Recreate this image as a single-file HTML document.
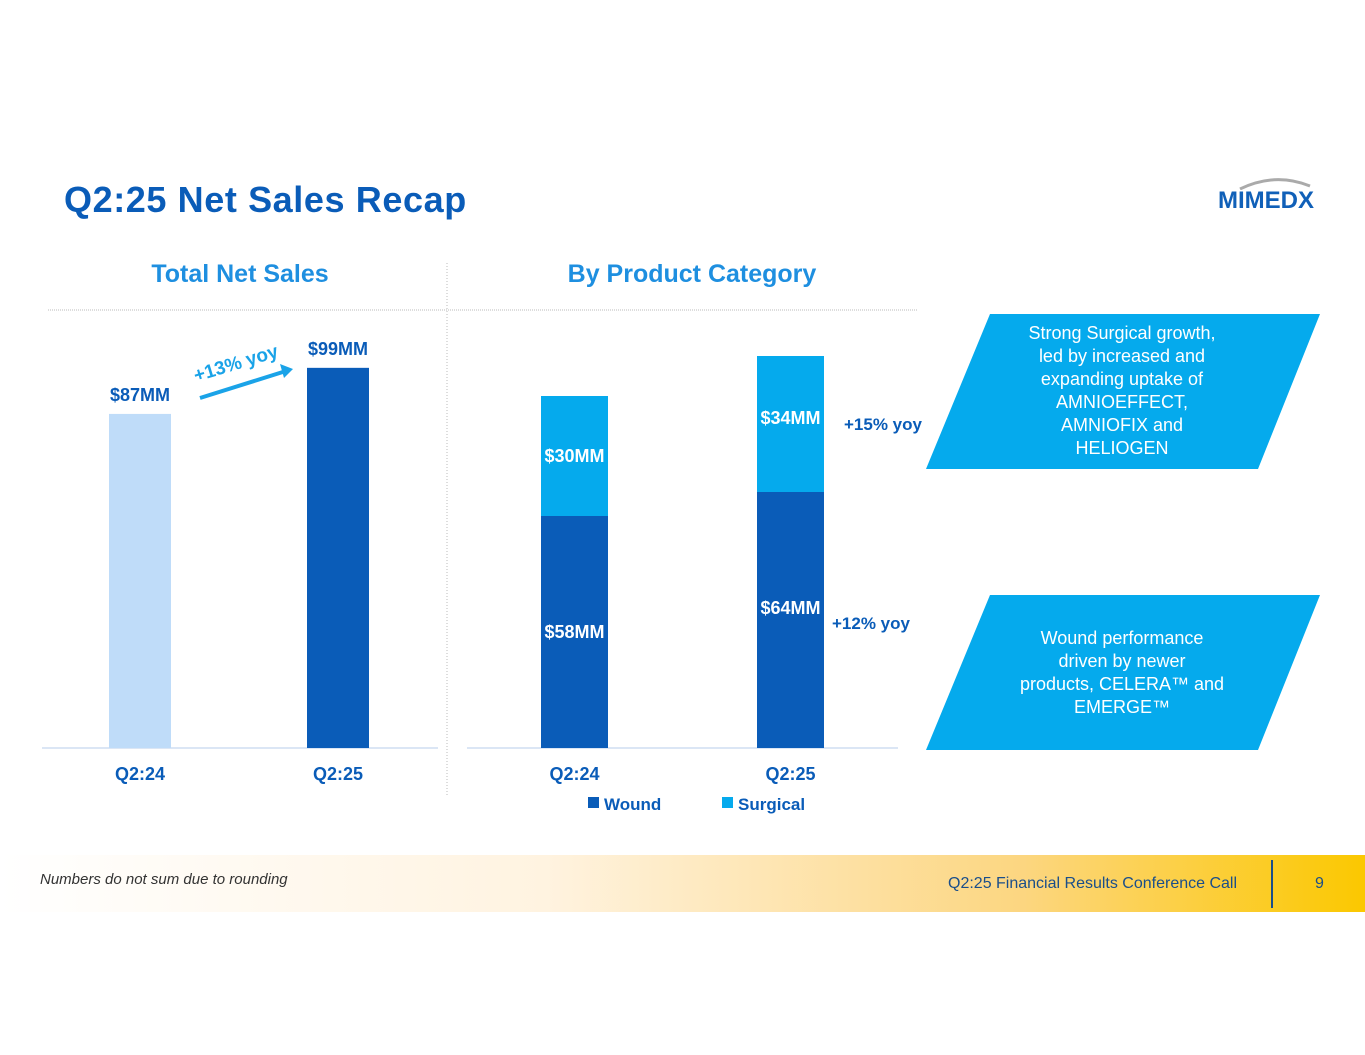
<!DOCTYPE html>
<html><head><meta charset="utf-8"><style>
body{margin:0;width:1365px;height:1055px;background:#fff;font-family:"Liberation Sans",sans-serif;position:relative;overflow:hidden}
.a{position:absolute}
</style></head><body>
<div class="a" style="left:64px;top:179px;font-size:36px;font-weight:bold;color:#0a5cb8;letter-spacing:0.6px">Q2:25 Net Sales Recap</div>
<div class="a" style="left:1218px;top:187px;font-size:24px;font-weight:bold;color:#1060b8">MIMEDX</div>
<svg class="a" style="left:1235px;top:176px" width="90" height="14"><path d="M5 13 Q40 -4 75 10" stroke="#aaa" stroke-width="3" fill="none"/></svg>
<div class="a" style="left:40px;width:400px;text-align:center;top:260px;font-size:25px;font-weight:bold;color:#1e8fe0">Total Net Sales</div>
<div class="a" style="left:492px;width:400px;text-align:center;top:260px;font-size:25px;font-weight:bold;color:#1e8fe0">By Product Category</div>
<svg class="a" style="left:0;top:0" width="1365" height="1055" id="chart">
<line x1="48" y1="310" x2="918" y2="310" stroke="#bbb" stroke-dasharray="1,1"/>
<line x1="447" y1="263" x2="447" y2="795" stroke="#bbb" stroke-dasharray="1,2"/>
<line x1="42" y1="748" x2="438" y2="748" stroke="#dbe6f5" stroke-width="2"/>
<line x1="467" y1="748" x2="898" y2="748" stroke="#dbe6f5" stroke-width="2"/>
<g id="g"></g>
<line x1="200" y1="398" x2="286" y2="371" stroke="#1aa3e8" stroke-width="4"/>
<polygon points="293,369 280,364 284,378" fill="#1aa3e8"/>
<text x="196" y="382" transform="rotate(-17 196 382)" font-size="19" font-weight="bold" fill="#1aa3e8">+13% yoy</text>
<polygon points="990,314 1320,314 1258,469 926,469" fill="#05aaed"/>
<polygon points="990,595 1320,595 1258,750 926,750" fill="#05aaed"/>
<text x="844" y="430" font-size="17" font-weight="bold" fill="#0a5cb8">+15% yoy</text>
<text x="832" y="629" font-size="17" font-weight="bold" fill="#0a5cb8">+12% yoy</text>
<rect x="588" y="797" width="11" height="11" fill="#0a5cb8"/><text x="604" y="810" font-size="17" font-weight="bold" fill="#0a5cb8">Wound</text>
<rect x="722" y="797" width="11" height="11" fill="#05aaed"/><text x="738" y="810" font-size="17" font-weight="bold" fill="#0a5cb8">Surgical</text>
</svg>
<div class="a" style="left:992px;width:260px;top:322px;text-align:center;color:#fff;font-size:18px;line-height:23px">Strong Surgical growth,<br>led by increased and<br>expanding uptake of<br>AMNIOEFFECT,<br>AMNIOFIX and<br>HELIOGEN</div>
<div class="a" style="left:992px;width:260px;top:627px;text-align:center;color:#fff;font-size:18px;line-height:23px">Wound performance<br>driven by newer<br>products, CELERA™ and<br>EMERGE™</div>
<div class="a" style="left:0;top:855px;width:1365px;height:57px;background:linear-gradient(90deg,#fff 0%,#fff3e0 40%,#fcd680 75%,#fbc800 100%)"></div>
<div class="a" style="left:40px;top:871px;font-size:15px;font-style:italic;color:#333">Numbers do not sum due to rounding</div>
<div class="a" style="left:948px;top:875px;font-size:16px;color:#1a4e8a">Q2:25 Financial Results Conference Call</div>
<div class="a" style="left:1271px;top:860px;width:2px;height:48px;background:#1a4e8a"></div>
<div class="a" style="left:1315px;top:875px;font-size:16px;color:#1a4e8a">9</div>
<script>
const totalCats=["Q2:24","Q2:25"];
const totalVals=[87,99];
const prodCats=["Q2:24","Q2:25"];
const woundVals=[58,64];
const surgicalVals=[30,34];
const NS="http://www.w3.org/2000/svg";
const g=document.getElementById("g");
const base=748;
const yL=v=>base-v*3.84;
const yR=v=>base-v*4.0;
const xL=i=>140+i*198;
const xR=i=>574.5+i*216;
function mk(t,a){const e=document.createElementNS(NS,t);for(const k in a)e.setAttribute(k,a[k]);g.appendChild(e);return e;}
function tx(x,y,s,c){const e=mk("text",{x:x,y:y,"text-anchor":"middle","font-size":18,"font-weight":"bold",fill:c});e.textContent=s;return e;}
totalVals.forEach((v,i)=>{
 const r=mk("rect",{x:xL(i)-31,y:yL(v),width:62,height:base-yL(v),fill:i?"#0a5cb8":"#bfdcf9"});
 
 
 tx(xL(i),yL(v)-13,"$"+v+"MM","#0a5cb8");
 tx(xL(i),780,totalCats[i],"#0a5cb8");
});
prodCats.forEach((c,i)=>{
 const w=woundVals[i],s=surgicalVals[i];
 const r1=mk("rect",{x:xR(i)-33.5,y:yR(w),width:67,height:base-yR(w),fill:"#0a5cb8"});
 
 
 const r2=mk("rect",{x:xR(i)-33.5,y:yR(w+s),width:67,height:yR(w)-yR(w+s),fill:"#05aaed"});
 
 
 tx(xR(i),(yR(w)+base)/2+6-i*12,"$"+w+"MM","#fff");
 tx(xR(i),(yR(w)+yR(w+s))/2+6-i*6,"$"+s+"MM","#fff");
 tx(xR(i),780,c,"#0a5cb8");
});
</script>
</body></html>
